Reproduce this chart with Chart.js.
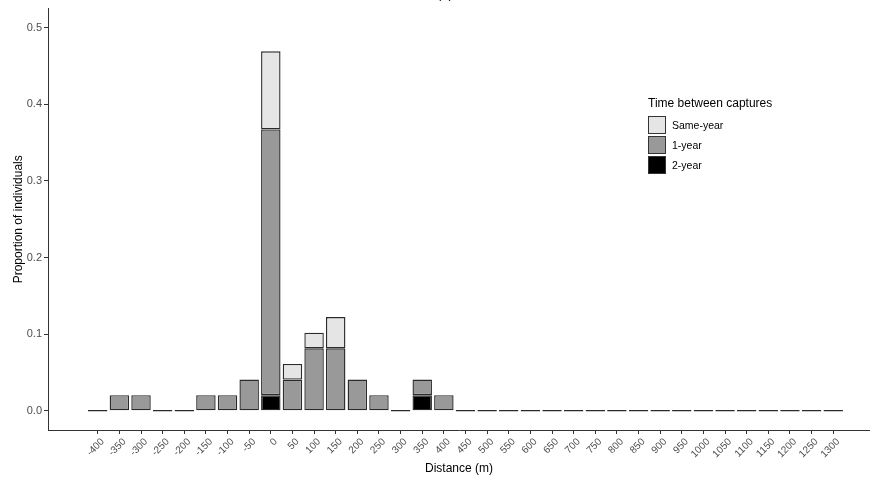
<!DOCTYPE html>
<html>
<head>
<meta charset="utf-8">
<script src="https://cdn.jsdelivr.net/npm/chart.js@4.4.1/dist/chart.umd.min.js"></script>
<style>
  html, body { margin: 0; padding: 0; background: #fff; }
  #wrap { position: relative; width: 870px; height: 478px; overflow: hidden; font-family: "Liberation Sans", Arial, sans-serif; }
  #panel { position: absolute; top: -13px; left: 437px; font-size: 13px; line-height: 13px; color: #000; }
  #legend { position: absolute; left: 648px; top: 95px; color: #000; }
  #legend .ttl { font-size: 12px; line-height: 16px; margin-bottom: 4px; }
  #legend .row { display: flex; align-items: center; height: 20px; }
  #legend .key { width: 18px; height: 18px; border: 1px solid #333; box-sizing: border-box; margin-right: 6px; }
  #legend .lab { font-size: 10.5px; }
</style>
</head>
<body>
<div id="wrap">
  <canvas id="chartCanvas" width="870" height="478"></canvas>
  <div id="panel">(a)</div>
  <div id="legend"></div>
</div>
<script>
// distance classes (m)
const distances = [-400,-350,-300,-250,-200,-150,-100,-50,0,50,100,150,200,250,300,350,400,450,500,550,600,650,700,750,800,850,900,950,1000,1050,1100,1150,1200,1250,1300];
// proportion of individuals per class
const sameYear = [0,0,0,0,0,0,0,0,0.102,0.0204,0.0204,0.0408,0,0,0,0,0,0,0,0,0,0,0,0,0,0,0,0,0,0,0,0,0,0,0];
const oneYear  = [0,0.0204,0.0204,0,0,0.0204,0.0204,0.0408,0.3469,0.0408,0.0816,0.0816,0.0408,0.0204,0,0.0204,0.0204,0,0,0,0,0,0,0,0,0,0,0,0,0,0,0,0,0,0];
const twoYear  = [0,0,0,0,0,0,0,0,0.0204,0,0,0,0,0,0,0.0204,0,0,0,0,0,0,0,0,0,0,0,0,0,0,0,0,0,0,0];
const yTicks = [0,0.1,0.2,0.3,0.4,0.5];

const seriesNames = ['Same-year','1-year','2-year'];
const seriesColors = ['#e5e5e5','#999999','#000000'];

const pts = arr => distances.map((d,i) => ({x:d, y:arr[i]}));

// legend (top to bottom like the original)
const lg = document.getElementById('legend');
let html = '<div class="ttl">Time between captures</div>';
seriesNames.forEach((n,i)=>{ html += '<div class="row"><div class="key" style="background:'+seriesColors[i]+'"></div><span class="lab">'+n+'</span></div>'; });
lg.innerHTML = html;

const ctx = document.getElementById('chartCanvas');
new Chart(ctx, {
  type: 'bar',
  data: {
    datasets: [
      { label: seriesNames[2], data: pts(twoYear), backgroundColor: seriesColors[2] },
      { label: seriesNames[1], data: pts(oneYear), backgroundColor: seriesColors[1], minBarLength: 1.5 },
      { label: seriesNames[0], data: pts(sameYear), backgroundColor: seriesColors[0] }
    ]
  },
  options: {
    responsive: false,
    animation: false,
    devicePixelRatio: 1,
    layout: { padding: { top: 8, right: 0, left: 0, bottom: 0 } },
    datasets: { bar: { borderColor: '#2b2b2b', borderWidth: 1.4, borderSkipped: false, barPercentage: 0.9, categoryPercentage: 1 } },
    plugins: { legend: { display: false }, tooltip: { enabled: false } },
    scales: {
      x: {
        type: 'linear', stacked: true, offset: false,
        min: -515, max: 1385,
        afterBuildTicks: s => { s.ticks = distances.map(v => ({ value: v })); },
        afterFit: s => { s.height = 48; },
        grid: { offset: false, drawOnChartArea: false, drawTicks: true, tickLength: 4, color: '#333' },
        border: { display: true, color: '#333', width: 1 },
        ticks: { autoSkip: false, maxRotation: 45, minRotation: 45, padding: 2, labelOffset: 5, color: '#4d4d4d', font: { size: 10, family: 'Liberation Sans' }, callback: v => String(v) },
        title: { display: true, text: 'Distance (m)', color: '#000', font: { size: 12, family: 'Liberation Sans' }, padding: { top: 0, bottom: 2 } }
      },
      y: {
        stacked: true,
        min: -0.025, max: 0.525,
        afterBuildTicks: s => { s.ticks = yTicks.map(v => ({ value: v })); },
        afterFit: s => { s.width = 48; },
        grid: { drawOnChartArea: false, drawTicks: true, tickLength: 4, color: '#333' },
        border: { display: true, color: '#333', width: 1 },
        ticks: { padding: 2, color: '#4d4d4d', font: { size: 11, family: 'Liberation Sans' }, callback: v => v.toFixed(1) },
        title: { display: true, text: 'Proportion of individuals', color: '#000', font: { size: 12, family: 'Liberation Sans' }, padding: { top: 11, bottom: 0 } }
      }
    }
  }
});
</script>
</body>
</html>
